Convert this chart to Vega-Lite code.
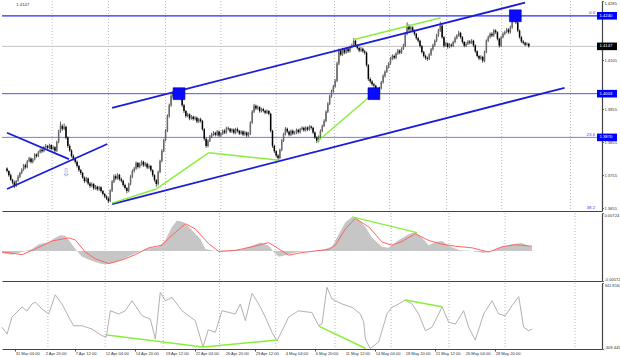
{
"$schema":"https://vega.github.io/schema/vega-lite/v6.json",
"padding":0,"spacing":0,"background":"#ffffff",
"config":{"view":{"stroke":null},"font":"Liberation Sans","axis":{"minExtent":0,"grid":false,"labelFont":"Liberation Sans","labelFontSize":4.1,"labelColor":"#333333","tickColor":"#444444","tickSize":1.3,"labelPadding":0.6,"domainColor":"#444444"}},
"datasets":{
"ohlc":[
{"i":0,"o":1.3775,"h":1.3779,"l":1.3763,"c":1.3768},{"i":1,"o":1.3768,"h":1.3770,"l":1.3750,"c":1.3755},{"i":2,"o":1.3755,"h":1.3760,"l":1.3738,"c":1.3741},{"i":3,"o":1.3741,"h":1.3744,"l":1.3727,"c":1.3733},{"i":4,"o":1.3733,"h":1.3738,"l":1.3716,"c":1.3722},{"i":5,"o":1.3722,"h":1.3740,"l":1.3719,"c":1.3738},{"i":6,"o":1.3738,"h":1.3756,"l":1.3735,"c":1.3750},{"i":7,"o":1.3750,"h":1.3765,"l":1.3746,"c":1.3762},{"i":8,"o":1.3762,"h":1.3776,"l":1.3758,"c":1.3771},{"i":9,"o":1.3771,"h":1.3789,"l":1.3768,"c":1.3785},
{"i":10,"o":1.3785,"h":1.3790,"l":1.3774,"c":1.3779},{"i":11,"o":1.3779,"h":1.3801,"l":1.3776,"c":1.3798},{"i":12,"o":1.3798,"h":1.3811,"l":1.3794,"c":1.3806},{"i":13,"o":1.3806,"h":1.3809,"l":1.3790,"c":1.3795},{"i":14,"o":1.3795,"h":1.3807,"l":1.3791,"c":1.3803},{"i":15,"o":1.3803,"h":1.3822,"l":1.3800,"c":1.3818},{"i":16,"o":1.3818,"h":1.3821,"l":1.3808,"c":1.3813},{"i":17,"o":1.3813,"h":1.3829,"l":1.3810,"c":1.3825},{"i":18,"o":1.3825,"h":1.3836,"l":1.3821,"c":1.3832},{"i":19,"o":1.3832,"h":1.3838,"l":1.3823,"c":1.3828},
{"i":20,"o":1.3828,"h":1.3844,"l":1.3825,"c":1.3841},{"i":21,"o":1.3841,"h":1.3850,"l":1.3837,"c":1.3844},{"i":22,"o":1.3844,"h":1.3847,"l":1.3833,"c":1.3838},{"i":23,"o":1.3838,"h":1.3851,"l":1.3834,"c":1.3847},{"i":24,"o":1.3847,"h":1.3849,"l":1.3830,"c":1.3835},{"i":25,"o":1.3835,"h":1.3845,"l":1.3831,"c":1.3840},{"i":26,"o":1.3840,"h":1.3843,"l":1.3824,"c":1.3829},{"i":27,"o":1.3829,"h":1.3860,"l":1.3826,"c":1.3856},{"i":28,"o":1.3856,"h":1.3893,"l":1.3852,"c":1.3888},{"i":29,"o":1.3888,"h":1.3918,"l":1.3884,"c":1.3905},
{"i":30,"o":1.3905,"h":1.3910,"l":1.3890,"c":1.3896},{"i":31,"o":1.3896,"h":1.3912,"l":1.3892,"c":1.3902},{"i":32,"o":1.3902,"h":1.3905,"l":1.3864,"c":1.3870},{"i":33,"o":1.3870,"h":1.3873,"l":1.3838,"c":1.3844},{"i":34,"o":1.3844,"h":1.3849,"l":1.3826,"c":1.3830},{"i":35,"o":1.3830,"h":1.3834,"l":1.3808,"c":1.3813},{"i":36,"o":1.3813,"h":1.3818,"l":1.3800,"c":1.3805},{"i":37,"o":1.3805,"h":1.3808,"l":1.3790,"c":1.3796},{"i":38,"o":1.3796,"h":1.3800,"l":1.3778,"c":1.3783},{"i":39,"o":1.3783,"h":1.3786,"l":1.3765,"c":1.3770},
{"i":40,"o":1.3770,"h":1.3774,"l":1.3756,"c":1.3762},{"i":41,"o":1.3762,"h":1.3765,"l":1.3744,"c":1.3748},{"i":42,"o":1.3748,"h":1.3751,"l":1.3731,"c":1.3737},{"i":43,"o":1.3737,"h":1.3750,"l":1.3733,"c":1.3745},{"i":44,"o":1.3745,"h":1.3748,"l":1.3725,"c":1.3730},{"i":45,"o":1.3730,"h":1.3734,"l":1.3716,"c":1.3722},{"i":46,"o":1.3722,"h":1.3733,"l":1.3718,"c":1.3728},{"i":47,"o":1.3728,"h":1.3731,"l":1.3710,"c":1.3715},{"i":48,"o":1.3715,"h":1.3725,"l":1.3711,"c":1.3720},{"i":49,"o":1.3720,"h":1.3723,"l":1.3707,"c":1.3712},
{"i":50,"o":1.3712,"h":1.3722,"l":1.3708,"c":1.3718},{"i":51,"o":1.3718,"h":1.3721,"l":1.3702,"c":1.3707},{"i":52,"o":1.3707,"h":1.3710,"l":1.3693,"c":1.3698},{"i":53,"o":1.3698,"h":1.3701,"l":1.3685,"c":1.3690},{"i":54,"o":1.3690,"h":1.3694,"l":1.3679,"c":1.3684},{"i":55,"o":1.3684,"h":1.3688,"l":1.3670,"c":1.3676},{"i":56,"o":1.3676,"h":1.3712,"l":1.3673,"c":1.3708},{"i":57,"o":1.3708,"h":1.3740,"l":1.3704,"c":1.3735},{"i":58,"o":1.3735,"h":1.3757,"l":1.3731,"c":1.3752},{"i":59,"o":1.3752,"h":1.3758,"l":1.3740,"c":1.3745},
{"i":60,"o":1.3745,"h":1.3761,"l":1.3741,"c":1.3756},{"i":61,"o":1.3756,"h":1.3759,"l":1.3738,"c":1.3743},{"i":62,"o":1.3743,"h":1.3748,"l":1.3733,"c":1.3738},{"i":63,"o":1.3738,"h":1.3741,"l":1.3720,"c":1.3725},{"i":64,"o":1.3725,"h":1.3729,"l":1.3711,"c":1.3716},{"i":65,"o":1.3716,"h":1.3719,"l":1.3700,"c":1.3707},{"i":66,"o":1.3707,"h":1.3732,"l":1.3703,"c":1.3728},{"i":67,"o":1.3728,"h":1.3755,"l":1.3724,"c":1.3750},{"i":68,"o":1.3750,"h":1.3772,"l":1.3746,"c":1.3768},{"i":69,"o":1.3768,"h":1.3780,"l":1.3763,"c":1.3775},
{"i":70,"o":1.3775,"h":1.3797,"l":1.3771,"c":1.3792},{"i":71,"o":1.3792,"h":1.3795,"l":1.3775,"c":1.3780},{"i":72,"o":1.3780,"h":1.3794,"l":1.3776,"c":1.3789},{"i":73,"o":1.3789,"h":1.3800,"l":1.3784,"c":1.3796},{"i":74,"o":1.3796,"h":1.3799,"l":1.3780,"c":1.3785},{"i":75,"o":1.3785,"h":1.3795,"l":1.3781,"c":1.3790},{"i":76,"o":1.3790,"h":1.3793,"l":1.3773,"c":1.3778},{"i":77,"o":1.3778,"h":1.3788,"l":1.3774,"c":1.3783},{"i":78,"o":1.3783,"h":1.3786,"l":1.3765,"c":1.3770},{"i":79,"o":1.3770,"h":1.3773,"l":1.3750,"c":1.3755},
{"i":80,"o":1.3755,"h":1.3758,"l":1.3735,"c":1.3740},{"i":81,"o":1.3740,"h":1.3743,"l":1.3720,"c":1.3728},{"i":82,"o":1.3728,"h":1.3769,"l":1.3724,"c":1.3765},{"i":83,"o":1.3765,"h":1.3802,"l":1.3761,"c":1.3798},{"i":84,"o":1.3798,"h":1.3834,"l":1.3794,"c":1.3829},{"i":85,"o":1.3829,"h":1.3866,"l":1.3825,"c":1.3862},{"i":86,"o":1.3862,"h":1.3895,"l":1.3858,"c":1.3890},{"i":87,"o":1.3890,"h":1.3940,"l":1.3886,"c":1.3935},{"i":88,"o":1.3935,"h":1.3973,"l":1.3930,"c":1.3968},{"i":89,"o":1.3968,"h":1.4001,"l":1.3963,"c":1.3996},
{"i":90,"o":1.3996,"h":1.4010,"l":1.3990,"c":1.4003},{"i":91,"o":1.4003,"h":1.4018,"l":1.3998,"c":1.4012},{"i":92,"o":1.4012,"h":1.4015,"l":1.3993,"c":1.3998},{"i":93,"o":1.3998,"h":1.4010,"l":1.3994,"c":1.4005},{"i":94,"o":1.4005,"h":1.4008,"l":1.3985,"c":1.3990},{"i":95,"o":1.3990,"h":1.3993,"l":1.3963,"c":1.3968},{"i":96,"o":1.3968,"h":1.3972,"l":1.3944,"c":1.3950},{"i":97,"o":1.3950,"h":1.3953,"l":1.3930,"c":1.3935},{"i":98,"o":1.3935,"h":1.3945,"l":1.3931,"c":1.3940},{"i":99,"o":1.3940,"h":1.3943,"l":1.3922,"c":1.3928},
{"i":100,"o":1.3928,"h":1.3938,"l":1.3924,"c":1.3933},{"i":101,"o":1.3933,"h":1.3936,"l":1.3921,"c":1.3926},{"i":102,"o":1.3926,"h":1.3935,"l":1.3922,"c":1.3930},{"i":103,"o":1.3930,"h":1.3933,"l":1.3913,"c":1.3918},{"i":104,"o":1.3918,"h":1.3929,"l":1.3914,"c":1.3925},{"i":105,"o":1.3925,"h":1.3930,"l":1.3915,"c":1.3920},{"i":106,"o":1.3920,"h":1.3923,"l":1.3890,"c":1.3895},{"i":107,"o":1.3895,"h":1.3898,"l":1.3860,"c":1.3866},{"i":108,"o":1.3866,"h":1.3869,"l":1.3838,"c":1.3844},{"i":109,"o":1.3844,"h":1.3864,"l":1.3840,"c":1.3860},
{"i":110,"o":1.3860,"h":1.3877,"l":1.3856,"c":1.3872},{"i":111,"o":1.3872,"h":1.3884,"l":1.3868,"c":1.3880},{"i":112,"o":1.3880,"h":1.3889,"l":1.3875,"c":1.3884},{"i":113,"o":1.3884,"h":1.3887,"l":1.3873,"c":1.3878},{"i":114,"o":1.3878,"h":1.3892,"l":1.3874,"c":1.3888},{"i":115,"o":1.3888,"h":1.3891,"l":1.3871,"c":1.3876},{"i":116,"o":1.3876,"h":1.3886,"l":1.3872,"c":1.3881},{"i":117,"o":1.3881,"h":1.3894,"l":1.3877,"c":1.3890},{"i":118,"o":1.3890,"h":1.3895,"l":1.3880,"c":1.3885},{"i":119,"o":1.3885,"h":1.3902,"l":1.3881,"c":1.3898},
{"i":120,"o":1.3898,"h":1.3903,"l":1.3891,"c":1.3896},{"i":121,"o":1.3896,"h":1.3899,"l":1.3883,"c":1.3888},{"i":122,"o":1.3888,"h":1.3898,"l":1.3884,"c":1.3894},{"i":123,"o":1.3894,"h":1.3897,"l":1.3879,"c":1.3884},{"i":124,"o":1.3884,"h":1.3899,"l":1.3880,"c":1.3895},{"i":125,"o":1.3895,"h":1.3900,"l":1.3885,"c":1.3890},{"i":126,"o":1.3890,"h":1.3893,"l":1.3877,"c":1.3882},{"i":127,"o":1.3882,"h":1.3892,"l":1.3878,"c":1.3888},{"i":128,"o":1.3888,"h":1.3891,"l":1.3874,"c":1.3879},{"i":129,"o":1.3879,"h":1.3890,"l":1.3875,"c":1.3885},
{"i":130,"o":1.3885,"h":1.3888,"l":1.3871,"c":1.3876},{"i":131,"o":1.3876,"h":1.3886,"l":1.3872,"c":1.3881},{"i":132,"o":1.3881,"h":1.3919,"l":1.3877,"c":1.3915},{"i":133,"o":1.3915,"h":1.3953,"l":1.3911,"c":1.3948},{"i":134,"o":1.3948,"h":1.3972,"l":1.3944,"c":1.3966},{"i":135,"o":1.3966,"h":1.3970,"l":1.3953,"c":1.3958},{"i":136,"o":1.3958,"h":1.3967,"l":1.3954,"c":1.3962},{"i":137,"o":1.3962,"h":1.3965,"l":1.3945,"c":1.3950},{"i":138,"o":1.3950,"h":1.3960,"l":1.3946,"c":1.3956},{"i":139,"o":1.3956,"h":1.3960,"l":1.3946,"c":1.3951},
{"i":140,"o":1.3951,"h":1.3954,"l":1.3940,"c":1.3945},{"i":141,"o":1.3945,"h":1.3955,"l":1.3941,"c":1.3950},{"i":142,"o":1.3950,"h":1.3953,"l":1.3937,"c":1.3942},{"i":143,"o":1.3942,"h":1.3945,"l":1.3885,"c":1.3890},{"i":144,"o":1.3890,"h":1.3893,"l":1.3838,"c":1.3844},{"i":145,"o":1.3844,"h":1.3848,"l":1.3822,"c":1.3828},{"i":146,"o":1.3828,"h":1.3831,"l":1.3810,"c":1.3815},{"i":147,"o":1.3815,"h":1.3819,"l":1.3800,"c":1.3807},{"i":148,"o":1.3807,"h":1.3836,"l":1.3803,"c":1.3832},{"i":149,"o":1.3832,"h":1.3865,"l":1.3828,"c":1.3860},
{"i":150,"o":1.3860,"h":1.3884,"l":1.3856,"c":1.3880},{"i":151,"o":1.3880,"h":1.3901,"l":1.3876,"c":1.3896},{"i":152,"o":1.3896,"h":1.3900,"l":1.3883,"c":1.3888},{"i":153,"o":1.3888,"h":1.3891,"l":1.3873,"c":1.3878},{"i":154,"o":1.3878,"h":1.3894,"l":1.3874,"c":1.3890},{"i":155,"o":1.3890,"h":1.3894,"l":1.3877,"c":1.3882},{"i":156,"o":1.3882,"h":1.3889,"l":1.3878,"c":1.3884},{"i":157,"o":1.3884,"h":1.3897,"l":1.3880,"c":1.3893},{"i":158,"o":1.3893,"h":1.3896,"l":1.3881,"c":1.3886},{"i":159,"o":1.3886,"h":1.3899,"l":1.3882,"c":1.3895},
{"i":160,"o":1.3895,"h":1.3904,"l":1.3891,"c":1.3899},{"i":161,"o":1.3899,"h":1.3902,"l":1.3887,"c":1.3892},{"i":162,"o":1.3892,"h":1.3904,"l":1.3888,"c":1.3900},{"i":163,"o":1.3900,"h":1.3903,"l":1.3889,"c":1.3894},{"i":164,"o":1.3894,"h":1.3907,"l":1.3890,"c":1.3903},{"i":165,"o":1.3903,"h":1.3906,"l":1.3894,"c":1.3899},{"i":166,"o":1.3899,"h":1.3902,"l":1.3880,"c":1.3885},{"i":167,"o":1.3885,"h":1.3888,"l":1.3865,"c":1.3870},{"i":168,"o":1.3870,"h":1.3873,"l":1.3853,"c":1.3859},{"i":169,"o":1.3859,"h":1.3876,"l":1.3855,"c":1.3872},
{"i":170,"o":1.3872,"h":1.3894,"l":1.3868,"c":1.3890},{"i":171,"o":1.3890,"h":1.3909,"l":1.3886,"c":1.3905},{"i":172,"o":1.3905,"h":1.3925,"l":1.3901,"c":1.3920},{"i":173,"o":1.3920,"h":1.3952,"l":1.3916,"c":1.3948},{"i":174,"o":1.3948,"h":1.3977,"l":1.3944,"c":1.3972},{"i":175,"o":1.3972,"h":1.4000,"l":1.3968,"c":1.3996},{"i":176,"o":1.3996,"h":1.4015,"l":1.3991,"c":1.4010},{"i":177,"o":1.4010,"h":1.4030,"l":1.4006,"c":1.4025},{"i":178,"o":1.4025,"h":1.4047,"l":1.4021,"c":1.4042},{"i":179,"o":1.4042,"h":1.4100,"l":1.4038,"c":1.4095},
{"i":180,"o":1.4095,"h":1.4140,"l":1.4090,"c":1.4134},{"i":181,"o":1.4134,"h":1.4139,"l":1.4117,"c":1.4122},{"i":182,"o":1.4122,"h":1.4143,"l":1.4118,"c":1.4138},{"i":183,"o":1.4138,"h":1.4142,"l":1.4123,"c":1.4128},{"i":184,"o":1.4128,"h":1.4145,"l":1.4124,"c":1.4140},{"i":185,"o":1.4140,"h":1.4144,"l":1.4127,"c":1.4132},{"i":186,"o":1.4132,"h":1.4149,"l":1.4128,"c":1.4145},{"i":187,"o":1.4145,"h":1.4155,"l":1.4141,"c":1.4150},{"i":188,"o":1.4150,"h":1.4172,"l":1.4146,"c":1.4164},{"i":189,"o":1.4164,"h":1.4168,"l":1.4145,"c":1.4150},
{"i":190,"o":1.4150,"h":1.4153,"l":1.4137,"c":1.4142},{"i":191,"o":1.4142,"h":1.4146,"l":1.4129,"c":1.4134},{"i":192,"o":1.4134,"h":1.4145,"l":1.4130,"c":1.4140},{"i":193,"o":1.4140,"h":1.4143,"l":1.4127,"c":1.4132},{"i":194,"o":1.4132,"h":1.4136,"l":1.4122,"c":1.4128},{"i":195,"o":1.4128,"h":1.4131,"l":1.4085,"c":1.4090},{"i":196,"o":1.4090,"h":1.4093,"l":1.4042,"c":1.4048},{"i":197,"o":1.4048,"h":1.4053,"l":1.4035,"c":1.4040},{"i":198,"o":1.4040,"h":1.4044,"l":1.4027,"c":1.4032},{"i":199,"o":1.4032,"h":1.4036,"l":1.4020,"c":1.4027},
{"i":200,"o":1.4027,"h":1.4030,"l":1.4009,"c":1.4015},{"i":201,"o":1.4015,"h":1.4018,"l":1.3999,"c":1.4005},{"i":202,"o":1.4005,"h":1.4024,"l":1.4001,"c":1.4020},{"i":203,"o":1.4020,"h":1.4042,"l":1.4016,"c":1.4038},{"i":204,"o":1.4038,"h":1.4062,"l":1.4034,"c":1.4057},{"i":205,"o":1.4057,"h":1.4074,"l":1.4052,"c":1.4070},{"i":206,"o":1.4070,"h":1.4090,"l":1.4066,"c":1.4085},{"i":207,"o":1.4085,"h":1.4099,"l":1.4080,"c":1.4095},{"i":208,"o":1.4095,"h":1.4114,"l":1.4091,"c":1.4109},{"i":209,"o":1.4109,"h":1.4123,"l":1.4105,"c":1.4118},
{"i":210,"o":1.4118,"h":1.4122,"l":1.4107,"c":1.4112},{"i":211,"o":1.4112,"h":1.4129,"l":1.4108,"c":1.4125},{"i":212,"o":1.4125,"h":1.4139,"l":1.4121,"c":1.4134},{"i":213,"o":1.4134,"h":1.4138,"l":1.4123,"c":1.4128},{"i":214,"o":1.4128,"h":1.4144,"l":1.4124,"c":1.4140},{"i":215,"o":1.4140,"h":1.4155,"l":1.4136,"c":1.4149},{"i":216,"o":1.4149,"h":1.4190,"l":1.4145,"c":1.4185},{"i":217,"o":1.4185,"h":1.4220,"l":1.4181,"c":1.4210},{"i":218,"o":1.4210,"h":1.4214,"l":1.4193,"c":1.4198},{"i":219,"o":1.4198,"h":1.4210,"l":1.4194,"c":1.4205},
{"i":220,"o":1.4205,"h":1.4208,"l":1.4190,"c":1.4195},{"i":221,"o":1.4195,"h":1.4198,"l":1.4180,"c":1.4185},{"i":222,"o":1.4185,"h":1.4188,"l":1.4167,"c":1.4172},{"i":223,"o":1.4172,"h":1.4176,"l":1.4159,"c":1.4164},{"i":224,"o":1.4164,"h":1.4167,"l":1.4143,"c":1.4148},{"i":225,"o":1.4148,"h":1.4151,"l":1.4125,"c":1.4130},{"i":226,"o":1.4130,"h":1.4133,"l":1.4113,"c":1.4118},{"i":227,"o":1.4118,"h":1.4122,"l":1.4106,"c":1.4112},{"i":228,"o":1.4112,"h":1.4116,"l":1.4103,"c":1.4109},{"i":229,"o":1.4109,"h":1.4126,"l":1.4105,"c":1.4122},
{"i":230,"o":1.4122,"h":1.4142,"l":1.4118,"c":1.4138},{"i":231,"o":1.4138,"h":1.4155,"l":1.4134,"c":1.4150},{"i":232,"o":1.4150,"h":1.4168,"l":1.4146,"c":1.4164},{"i":233,"o":1.4164,"h":1.4185,"l":1.4160,"c":1.4180},{"i":234,"o":1.4180,"h":1.4200,"l":1.4176,"c":1.4195},{"i":235,"o":1.4195,"h":1.4222,"l":1.4191,"c":1.4210},{"i":236,"o":1.4210,"h":1.4213,"l":1.4170,"c":1.4175},{"i":237,"o":1.4175,"h":1.4178,"l":1.4143,"c":1.4149},{"i":238,"o":1.4149,"h":1.4161,"l":1.4145,"c":1.4156},{"i":239,"o":1.4156,"h":1.4159,"l":1.4140,"c":1.4145},
{"i":240,"o":1.4145,"h":1.4157,"l":1.4141,"c":1.4152},{"i":241,"o":1.4152,"h":1.4156,"l":1.4144,"c":1.4149},{"i":242,"o":1.4149,"h":1.4164,"l":1.4145,"c":1.4160},{"i":243,"o":1.4160,"h":1.4177,"l":1.4156,"c":1.4172},{"i":244,"o":1.4172,"h":1.4184,"l":1.4168,"c":1.4180},{"i":245,"o":1.4180,"h":1.4194,"l":1.4176,"c":1.4188},{"i":246,"o":1.4188,"h":1.4191,"l":1.4170,"c":1.4175},{"i":247,"o":1.4175,"h":1.4178,"l":1.4155,"c":1.4160},{"i":248,"o":1.4160,"h":1.4163,"l":1.4144,"c":1.4149},{"i":249,"o":1.4149,"h":1.4160,"l":1.4145,"c":1.4155},
{"i":250,"o":1.4155,"h":1.4166,"l":1.4151,"c":1.4162},{"i":251,"o":1.4162,"h":1.4166,"l":1.4153,"c":1.4158},{"i":252,"o":1.4158,"h":1.4169,"l":1.4154,"c":1.4164},{"i":253,"o":1.4164,"h":1.4167,"l":1.4145,"c":1.4150},{"i":254,"o":1.4150,"h":1.4153,"l":1.4127,"c":1.4132},{"i":255,"o":1.4132,"h":1.4135,"l":1.4113,"c":1.4118},{"i":256,"o":1.4118,"h":1.4121,"l":1.4105,"c":1.4110},{"i":257,"o":1.4110,"h":1.4120,"l":1.4106,"c":1.4115},{"i":258,"o":1.4115,"h":1.4118,"l":1.4097,"c":1.4103},{"i":259,"o":1.4103,"h":1.4134,"l":1.4099,"c":1.4130},
{"i":260,"o":1.4130,"h":1.4168,"l":1.4126,"c":1.4164},{"i":261,"o":1.4164,"h":1.4180,"l":1.4160,"c":1.4175},{"i":262,"o":1.4175,"h":1.4189,"l":1.4171,"c":1.4185},{"i":263,"o":1.4185,"h":1.4190,"l":1.4175,"c":1.4180},{"i":264,"o":1.4180,"h":1.4200,"l":1.4176,"c":1.4195},{"i":265,"o":1.4195,"h":1.4199,"l":1.4185,"c":1.4190},{"i":266,"o":1.4190,"h":1.4193,"l":1.4165,"c":1.4170},{"i":267,"o":1.4170,"h":1.4173,"l":1.4143,"c":1.4149},{"i":268,"o":1.4149,"h":1.4179,"l":1.4145,"c":1.4175},{"i":269,"o":1.4175,"h":1.4190,"l":1.4171,"c":1.4185},
{"i":270,"o":1.4185,"h":1.4195,"l":1.4181,"c":1.4191},{"i":271,"o":1.4191,"h":1.4203,"l":1.4187,"c":1.4198},{"i":272,"o":1.4198,"h":1.4202,"l":1.4185,"c":1.4190},{"i":273,"o":1.4190,"h":1.4210,"l":1.4186,"c":1.4205},{"i":274,"o":1.4205,"h":1.4230,"l":1.4201,"c":1.4225},{"i":275,"o":1.4225,"h":1.4246,"l":1.4221,"c":1.4240},{"i":276,"o":1.4240,"h":1.4244,"l":1.4215,"c":1.4220},{"i":277,"o":1.4220,"h":1.4223,"l":1.4190,"c":1.4195},{"i":278,"o":1.4195,"h":1.4198,"l":1.4170,"c":1.4175},{"i":279,"o":1.4175,"h":1.4178,"l":1.4157,"c":1.4162},
{"i":280,"o":1.4162,"h":1.4166,"l":1.4153,"c":1.4158},{"i":281,"o":1.4158,"h":1.4161,"l":1.4147,"c":1.4152},{"i":282,"o":1.4152,"h":1.4159,"l":1.4149,"c":1.4155},{"i":283,"o":1.4155,"h":1.4158,"l":1.4143,"c":1.4147}
],
"grid":[{"i":24.5},{"i":55},{"i":86},{"i":116},{"i":146},{"i":177.6},{"i":207.5},{"i":238.4},{"i":268.3},{"i":305.6}],
"xlab":[{"i":7,"t":"31 Mar 04:00"},{"i":23,"t":"2 Apr 20:00"},{"i":39,"t":"7 Apr 12:00"},{"i":55,"t":"12 Apr 04:00"},{"i":71,"t":"14 Apr 20:00"},{"i":87,"t":"19 Apr 12:00"},{"i":103,"t":"22 Apr 04:00"},{"i":119,"t":"26 Apr 20:00"},{"i":135,"t":"29 Apr 12:00"},{"i":151,"t":"4 May 04:00"},{"i":167,"t":"6 May 20:00"},{"i":183,"t":"11 May 12:00"},{"i":199,"t":"14 May 04:00"},{"i":215,"t":"18 May 20:00"},{"i":231,"t":"21 May 12:00"},{"i":247,"t":"26 May 04:00"},{"i":263,"t":"28 May 20:00"}],
"chan":[{"a":57,"pa":1.396,"b":281,"pb":1.428},{"a":57,"pa":1.3667,"b":302.4,"pb":1.4021},{"a":0,"pa":1.3884,"b":33.6,"pb":1.3804},{"a":0,"pa":1.3713,"b":54.4,"pb":1.385}],
"green":[{"a":57,"pa":1.367,"b":81,"pb":1.3713},{"a":81,"pa":1.3713,"b":109.3,"pb":1.3823},{"a":109.3,"pa":1.3823,"b":146.7,"pb":1.3801},{"a":168,"pa":1.3856,"b":198.4,"pb":1.4002},{"a":187.7,"pa":1.4167,"b":235.2,"pb":1.4234}],
"boxes":[{"i":93.3,"p":1.4003},{"i":199,"p":1.4003},{"i":275.7,"p":1.424}],
"fib":[{"p":1.424,"t":"0.0"},{"p":1.387,"t":"23.6"},{"p":1.3649,"t":"38.2"}],
"tagsb":[{"p":1.424,"t":"1.4240"},{"p":1.4003,"t":"1.4003"},{"p":1.387,"t":"1.3870"}],
"tagk":[{"p":1.4147,"t":"1.4147"}],
"hist":[{"i":0,"v":-0.0004},{"i":5.3,"v":-0.0007},{"i":10.7,"v":-0.0002},{"i":16,"v":0.0004},{"i":19.6,"v":0.0013},{"i":24.9,"v":0.0017},{"i":28.4,"v":0.0025},{"i":31.1,"v":0.003},{"i":33.8,"v":0.0029},{"i":36.4,"v":0.0017},{"i":40,"v":0},{"i":42.7,"v":-0.0011},{"i":48,"v":-0.0019},{"i":53.3,"v":-0.0025},{"i":56.9,"v":-0.0025},{"i":62.2,"v":-0.0019},{"i":67.6,"v":-0.001},{"i":72.9,"v":-0.0002},{"i":78.2,"v":0.0005},{"i":83.6,"v":0.0008},{"i":87.1,"v":0.0021},{"i":90.7,"v":0.0046},{"i":93.3,"v":0.0058},{"i":96.9,"v":0.0055},{"i":101.3,"v":0.004},{"i":105.8,"v":0.0023},{"i":108.4,"v":0.0004},{"i":113.8,"v":0},{"i":120.9,"v":0.0002},{"i":128,"v":0.0003},{"i":133.3,"v":0.001},{"i":137.8,"v":0.0016},{"i":142.2,"v":0.001},{"i":144.9,"v":-0.0002},{"i":147.6,"v":-0.0011},{"i":151.1,"v":-0.0008},{"i":156.4,"v":-0.0003},{"i":160,"v":-0.0001},{"i":165.3,"v":0},{"i":170.7,"v":0.0002},{"i":176,"v":0.0008},{"i":179.6,"v":0.0032},{"i":183.1,"v":0.0055},{"i":186.7,"v":0.0065},{"i":190.2,"v":0.0059},{"i":193.8,"v":0.0046},{"i":197.3,"v":0.0025},{"i":202.7,"v":0.0008},{"i":206.2,"v":0.0006},{"i":211.6,"v":0.0021},{"i":216.9,"v":0.0032},{"i":220.4,"v":0.0036},{"i":224,"v":0.0025},{"i":227.6,"v":0.0011},{"i":231.1,"v":0.0017},{"i":234.7,"v":0.0019},{"i":238.2,"v":0.001},{"i":243.6,"v":0.0002},{"i":250.7,"v":0},{"i":256.9,"v":-0.0004},{"i":261.3,"v":0},{"i":266.7,"v":0.0008},{"i":272,"v":0.0013},{"i":277.3,"v":0.0015},{"i":282.7,"v":0.0007}],
"sig":[{"i":0,"v":-0.0002},{"i":7.1,"v":-0.0005},{"i":10.7,"v":-0.0007},{"i":17.8,"v":0.0004},{"i":26.7,"v":0.0019},{"i":35.6,"v":0.0025},{"i":39.1,"v":0.0021},{"i":44.4,"v":-0.0002},{"i":49.8,"v":-0.0015},{"i":56.9,"v":-0.0024},{"i":64,"v":-0.0017},{"i":71.1,"v":-0.0007},{"i":78.2,"v":0.0006},{"i":85.3,"v":0.0011},{"i":90.7,"v":0.003},{"i":97.8,"v":0.0052},{"i":103.1,"v":0.0042},{"i":110.2,"v":0.0014},{"i":115.6,"v":-0.0001},{"i":124.4,"v":0.0001},{"i":133.3,"v":0.0008},{"i":142.2,"v":0.0016},{"i":145.8,"v":0.0008},{"i":152.9,"v":-0.0008},{"i":160,"v":-0.0003},{"i":174.2,"v":0.0003},{"i":177.8,"v":0.0011},{"i":183.1,"v":0.0042},{"i":188.4,"v":0.0062},{"i":195.6,"v":0.0046},{"i":202.7,"v":0.0017},{"i":208,"v":0.0011},{"i":213.3,"v":0.0018},{"i":220.4,"v":0.0033},{"i":227.6,"v":0.002},{"i":234.7,"v":0.0013},{"i":241.8,"v":0.0009},{"i":250.7,"v":0.0006},{"i":259.6,"v":-0.0002},{"i":266.7,"v":0.0008},{"i":273.8,"v":0.0012},{"i":282.7,"v":0.0009}],
"greenm":[{"a":186.7,"pa":0.0065,"b":221.3,"pb":0.0035}],
"cci":[{"i":0,"v":-95},{"i":2.7,"v":-162},{"i":5.3,"v":6},{"i":10.7,"v":105},{"i":13.3,"v":65},{"i":16,"v":135},{"i":17.8,"v":154},{"i":21.3,"v":85},{"i":24.9,"v":36},{"i":28.4,"v":226},{"i":32,"v":135},{"i":35.6,"v":6},{"i":38.2,"v":-80},{"i":42.7,"v":-80},{"i":48,"v":-112},{"i":53.3,"v":-178},{"i":55.6,"v":-190},{"i":57.8,"v":68},{"i":62.2,"v":36},{"i":65.8,"v":68},{"i":69.3,"v":167},{"i":74.7,"v":19},{"i":79.1,"v":-14},{"i":81.8,"v":-211},{"i":84.4,"v":250},{"i":87.1,"v":167},{"i":90.7,"v":200},{"i":96,"v":68},{"i":103.1,"v":-30},{"i":107.2,"v":-290},{"i":110,"v":-120},{"i":113.8,"v":-145},{"i":117.3,"v":68},{"i":124.4,"v":36},{"i":127.1,"v":135},{"i":129.8,"v":-30},{"i":133.3,"v":240},{"i":136.9,"v":135},{"i":140.4,"v":6},{"i":144,"v":-145},{"i":146.7,"v":-230},{"i":152.9,"v":6},{"i":158.2,"v":68},{"i":160,"v":62},{"i":165.3,"v":51},{"i":168.9,"v":-80},{"i":170.7,"v":-60},{"i":173.3,"v":299},{"i":176,"v":184},{"i":177.8,"v":167},{"i":181.3,"v":135},{"i":186.7,"v":102},{"i":191.1,"v":36},{"i":192.9,"v":-43},{"i":193.8,"v":-211},{"i":196.4,"v":-305},{"i":200.9,"v":-240},{"i":205.3,"v":36},{"i":208,"v":102},{"i":211.6,"v":135},{"i":215.1,"v":174},{"i":218.7,"v":135},{"i":222.2,"v":36},{"i":225.8,"v":-129},{"i":229.3,"v":-95},{"i":232.9,"v":36},{"i":234.7,"v":108},{"i":238.2,"v":-46},{"i":241.8,"v":-63},{"i":246.2,"v":68},{"i":248.9,"v":-95},{"i":252.4,"v":-221},{"i":256.9,"v":36},{"i":261.3,"v":167},{"i":264.9,"v":36},{"i":268.4,"v":19},{"i":272,"v":118},{"i":275.6,"v":207},{"i":278.2,"v":-95},{"i":280.9,"v":-129},{"i":282.7,"v":-112}],
"greenc":[{"a":56,"pa":-171,"b":107.2,"pb":-290},{"a":107.2,"pa":-290,"b":146.7,"pb":-221},{"a":169,"pa":-83,"b":194,"pb":-305},{"a":215,"pa":174,"b":234.7,"pb":108}]
},
"vconcat":[
{"width":600,"height":210,
"layer":[
{"data":{"name":"grid"},"mark":{"type":"rule","color":"#9a9a9a","strokeDash":[1,2],"strokeWidth":0.7},"encoding":{"x":{"field":"i","type":"quantitative","scale":{"domain":[0,320],"nice":false,"zero":false},"axis":{"labels":false,"ticks":false,"domainWidth":1.2,"title":null}}}},
{"data":{"values":[{}]},"mark":{"type":"rule","color":"#2b2bff","strokeWidth":1.3},"encoding":{"y":{"datum":1.424,"type":"quantitative","scale":{"domain":[1.3646,1.4285],"nice":false,"zero":false},"axis":{"orient":"right","values":[1.4285,1.4205,1.4105,1.4055,1.3955,1.3905,1.3855,1.3805,1.3755,1.3705,1.3655],"format":".4f","labelFlush":true,"title":null,"domainWidth":1.2}}}},
{"data":{"values":[{}]},"mark":{"type":"rule","color":"#5050ff","strokeWidth":1},"encoding":{"y":{"datum":1.4003,"type":"quantitative"}}},
{"data":{"values":[{}]},"mark":{"type":"rule","color":"#7676ff","strokeWidth":1},"encoding":{"y":{"datum":1.387,"type":"quantitative"}}},
{"data":{"values":[{}]},"mark":{"type":"rule","color":"#c4c4c4","strokeWidth":1},"encoding":{"y":{"datum":1.4147,"type":"quantitative"}}},
{"data":{"name":"ohlc"},"mark":{"type":"rule","color":"#111111","strokeWidth":0.7},"encoding":{"x":{"field":"i","type":"quantitative"},"y":{"field":"l","type":"quantitative"},"y2":{"field":"h"}}},
{"data":{"name":"ohlc"},"mark":{"type":"bar","width":1.5},"encoding":{"x":{"field":"i","type":"quantitative"},"y":{"field":"o","type":"quantitative"},"y2":{"field":"c"},"color":{"condition":{"test":"datum.c >= datum.o","value":"#6a6a6a"},"value":"#000000"}}},
{"data":{"name":"chan"},"mark":{"type":"rule","color":"#1c1cd8","strokeWidth":1.8},"encoding":{"x":{"field":"a","type":"quantitative"},"x2":{"field":"b"},"y":{"field":"pa","type":"quantitative"},"y2":{"field":"pb"}}},
{"data":{"name":"green"},"mark":{"type":"rule","color":"#8aef3a","strokeWidth":1.5},"encoding":{"x":{"field":"a","type":"quantitative"},"x2":{"field":"b"},"y":{"field":"pa","type":"quantitative"},"y2":{"field":"pb"}}},
{"data":{"name":"boxes"},"mark":{"type":"point","shape":"square","size":140,"filled":true,"color":"#0a0aff","stroke":"#00007a","strokeWidth":0.6,"opacity":1},"encoding":{"x":{"field":"i","type":"quantitative"},"y":{"field":"p","type":"quantitative"}}},
{"data":{"values":[{"i":32,"p":1.3762}]},"mark":{"type":"text","text":"⇩","font":"DejaVu Sans","fontSize":10,"color":"#6d9de0"},"encoding":{"x":{"field":"i","type":"quantitative"},"y":{"field":"p","type":"quantitative"}}},
{"data":{"values":[{"i":5,"p":1.4285,"t":"1.4147"}]},"mark":{"type":"text","align":"left","baseline":"top","dy":1.5,"fontSize":4.3,"color":"#333333"},"encoding":{"x":{"field":"i","type":"quantitative"},"y":{"field":"p","type":"quantitative"},"text":{"field":"t"}}},
{"data":{"name":"fib"},"mark":{"type":"text","align":"right","baseline":"bottom","dy":-0.3,"fontSize":4.4,"color":"#3a3aff"},"encoding":{"x":{"datum":319,"type":"quantitative"},"y":{"field":"p","type":"quantitative"},"text":{"field":"t"}}},
{"data":{"name":"tagsb"},"mark":{"type":"rect","color":"#0000ff","x2Offset":20,"yOffset":-3.8,"y2Offset":3.8},"encoding":{"x":{"datum":320,"type":"quantitative"},"x2":{"datum":320},"y":{"field":"p","type":"quantitative"},"y2":{"field":"p"}}},
{"data":{"name":"tagk"},"mark":{"type":"rect","color":"#000000","x2Offset":20,"yOffset":-3.8,"y2Offset":3.8},"encoding":{"x":{"datum":320,"type":"quantitative"},"x2":{"datum":320},"y":{"field":"p","type":"quantitative"},"y2":{"field":"p"}}},
{"data":{"name":"tagsb"},"mark":{"type":"text","align":"left","baseline":"middle","dx":2.5,"fontSize":4.2,"color":"#ffffff"},"encoding":{"x":{"datum":320,"type":"quantitative"},"y":{"field":"p","type":"quantitative"},"text":{"field":"t"}}},
{"data":{"name":"tagk"},"mark":{"type":"text","align":"left","baseline":"middle","dx":2.5,"fontSize":4.2,"color":"#ffffff"},"encoding":{"x":{"datum":320,"type":"quantitative"},"y":{"field":"p","type":"quantitative"},"text":{"field":"t"}}}
]},
{"width":600,"height":68,
"layer":[
{"data":{"name":"grid"},"mark":{"type":"rule","color":"#9a9a9a","strokeDash":[1,2],"strokeWidth":0.7},"encoding":{"x":{"field":"i","type":"quantitative","scale":{"domain":[0,320],"nice":false,"zero":false},"axis":{"labels":false,"ticks":false,"domainWidth":1.2,"title":null}}}},
{"data":{"name":"hist"},"mark":{"type":"area","color":"#c6c6c6","interpolate":"linear"},"encoding":{"x":{"field":"i","type":"quantitative"},"y":{"field":"v","type":"quantitative","scale":{"domain":[-0.00572,0.00724],"nice":false,"zero":false},"axis":{"orient":"right","values":[0.00724,0,-0.00572],"labelExpr":"datum.value == 0 ? '0.00' : (datum.value > 0 ? '0.00724' : '-0.00572')","labelFlush":true,"title":null,"domainWidth":1.2}},"y2":{"datum":0}}},
{"data":{"name":"sig"},"mark":{"type":"line","color":"#ff6464","strokeWidth":1},"encoding":{"x":{"field":"i","type":"quantitative"},"y":{"field":"v","type":"quantitative"}}},
{"data":{"name":"greenm"},"mark":{"type":"rule","color":"#8aef3a","strokeWidth":1.5},"encoding":{"x":{"field":"a","type":"quantitative"},"x2":{"field":"b"},"y":{"field":"pa","type":"quantitative"},"y2":{"field":"pb"}}}
]},
{"width":600,"height":66,
"layer":[
{"data":{"name":"grid"},"mark":{"type":"rule","color":"#9a9a9a","strokeDash":[1,2],"strokeWidth":0.7},"encoding":{"x":{"field":"i","type":"quantitative","scale":{"domain":[0,320],"nice":false,"zero":false},"axis":{"values":[7,23,39,55,71,87,103,119,135,151,167,183,199,215,231,247,263],"labels":false,"ticks":true,"tickSize":2,"domainWidth":1.2,"title":null}}}},
{"data":{"name":"cci"},"mark":{"type":"line","color":"#a8a8a8","strokeWidth":0.9},"encoding":{"x":{"field":"i","type":"quantitative"},"y":{"field":"v","type":"quantitative","scale":{"domain":[-309.445,341.8162],"nice":false,"zero":false},"axis":{"orient":"right","values":[341.8162,0,-309.445],"labelExpr":"datum.value == 0 ? '0.00' : (datum.value > 0 ? '341.8162' : '-309.445')","labelFlush":true,"title":null,"domainWidth":1.2}}}},
{"data":{"name":"greenc"},"mark":{"type":"rule","color":"#8aef3a","strokeWidth":1.5},"encoding":{"x":{"field":"a","type":"quantitative"},"x2":{"field":"b"},"y":{"field":"pa","type":"quantitative"},"y2":{"field":"pb"}}},
{"data":{"name":"xlab"},"mark":{"type":"text","align":"left","baseline":"top","dy":2.5,"dx":0.5,"fontSize":4.1,"color":"#333333"},"encoding":{"x":{"field":"i","type":"quantitative"},"y":{"datum":-309.445,"type":"quantitative"},"text":{"field":"t"}}}
]}
]
}
